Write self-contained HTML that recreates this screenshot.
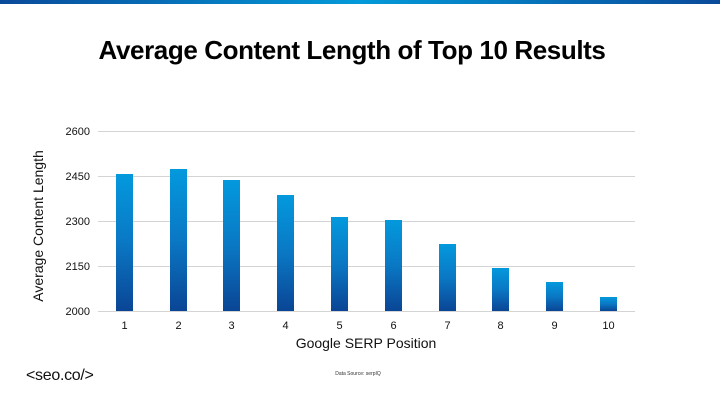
<!DOCTYPE html>
<html><head><meta charset="utf-8"><style>
body{margin:0;width:720px;height:405px;background:#fff;overflow:hidden;position:relative;font-family:"Liberation Sans",sans-serif}
.bar{position:absolute;top:0;left:0;width:720px;height:4px;background:linear-gradient(90deg,#0a4a9a,#039ad9 50%,#0a4a9a)}
h1{position:absolute;top:35px;left:-8px;width:720px;text-align:center;margin:0;font-size:26px;font-weight:bold;color:#000;letter-spacing:-0.4px}
</style></head><body>
<div class="bar"></div>
<h1>Average Content Length of Top 10 Results</h1>
<svg width="720" height="405" style="position:absolute;left:0;top:0">
<defs><linearGradient id="g" x1="0" y1="0" x2="0" y2="1"><stop offset="0" stop-color="#0399dd"/><stop offset="0.5" stop-color="#0a78c4"/><stop offset="1" stop-color="#0a4595"/></linearGradient></defs>
<g stroke="#d4d4d4" stroke-width="1">
<line x1="98" x2="635" y1="131.5" y2="131.5"/><line x1="98" x2="635" y1="176.5" y2="176.5"/><line x1="98" x2="635" y1="221.5" y2="221.5"/><line x1="98" x2="635" y1="266.5" y2="266.5"/><line x1="98" x2="635" y1="311.5" y2="311.5"/></g>
<g font-size="11" text-anchor="end" fill="#111">
<text x="90" y="135">2600</text><text x="90" y="180">2450</text><text x="90" y="225">2300</text><text x="90" y="270">2150</text><text x="90" y="315">2000</text></g>
<g fill="url(#g)">
<rect x="116" y="174" width="17" height="137"/><rect x="170" y="169" width="17" height="142"/><rect x="223" y="180" width="17" height="131"/><rect x="277" y="195" width="17" height="116"/><rect x="331" y="217" width="17" height="94"/><rect x="385" y="220" width="17" height="91"/><rect x="439" y="244" width="17" height="67"/><rect x="492" y="268" width="17" height="43"/><rect x="546" y="282" width="17" height="29"/><rect x="600" y="297" width="17" height="14"/></g>
<g font-size="11" text-anchor="middle" fill="#111">
<text x="124.5" y="329">1</text><text x="178.5" y="329">2</text><text x="231.5" y="329">3</text><text x="285.5" y="329">4</text><text x="339.5" y="329">5</text><text x="393.5" y="329">6</text><text x="447.5" y="329">7</text><text x="500.5" y="329">8</text><text x="554.5" y="329">9</text><text x="608.5" y="329">10</text></g>
<text x="366" y="348" font-size="14" text-anchor="middle" fill="#111">Google SERP Position</text>
<text transform="translate(43,226) rotate(-90)" font-size="14" text-anchor="middle" fill="#111">Average Content Length</text>
<text x="26" y="380" font-size="16" fill="#111" letter-spacing="-0.3">&lt;seo.co/&gt;</text>
<text x="358" y="375" font-size="5" text-anchor="middle" fill="#333">Data Source: serpIQ</text>
</svg>
</body></html>
